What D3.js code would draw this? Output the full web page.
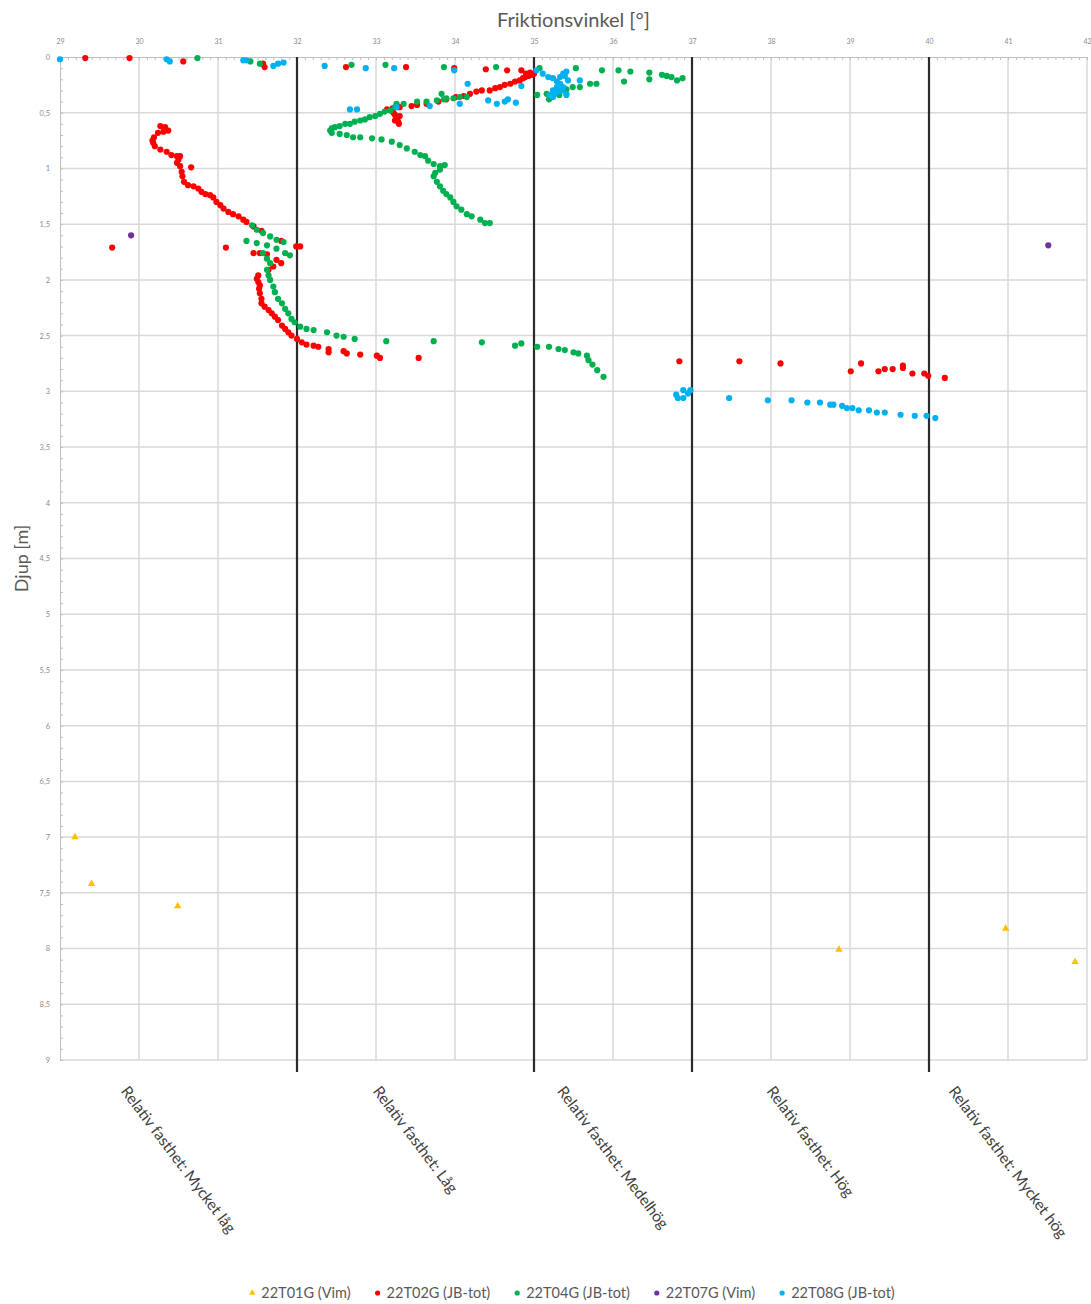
<!DOCTYPE html>
<html>
<head>
<meta charset="utf-8">
<script src="https://cdn.jsdelivr.net/npm/d3@7"></script>
<style>
body { margin: 0; background: #fff; }
text { font-family: Lato, "Open Sans", sans-serif; }
</style>
</head>
<body>
<div id="chart"></div>
<script>
// axis ticks
const xTicks = [29, 30, 31, 32, 33, 34, 35, 36, 37, 38, 39, 40, 41, 42]
const yTicks = [0, 0.5, 1, 1.5, 2, 2.5, 3, 3.5, 4, 4.5, 5, 5.5, 6, 6.5, 7, 7.5, 8, 8.5, 9]

// strength classes (friction angle bounds)
const zoneBounds = [29, 32, 35, 37, 40, 42]
const zoneNames = ["Relativ fasthet: Mycket låg", "Relativ fasthet: Låg", "Relativ fasthet: Medelhög",
                   "Relativ fasthet: Hög", "Relativ fasthet: Mycket hög"]

const seriesNames = ["22T01G (Vim)", "22T02G (JB-tot)", "22T04G (JB-tot)", "22T07G (Vim)", "22T08G (JB-tot)"]
const seriesColors = ["#FFC000", "#FF0000", "#00B050", "#7030A0", "#00B0F0"]

// [friktionsvinkel, djup]
const t01g = [[29.19, 7.00], [29.40, 7.42], [30.49, 7.62], [38.86, 8.01], [40.97, 7.82], [41.85, 8.12]]

const t02g = [
  [29.32, 0.01], [29.88, 0.01], [30.56, 0.04], [31.57, 0.06], [31.59, 0.09],
  [32.62, 0.09], [33.38, 0.09], [33.99, 0.10], [34.39, 0.11], [34.66, 0.12], [34.84, 0.12],
  [35.00, 0.15], [34.97, 0.16], [34.95, 0.14], [34.93, 0.17], [34.90, 0.15], [34.89, 0.18], [34.86, 0.19],
  [34.82, 0.21], [34.76, 0.22], [34.70, 0.24], [34.63, 0.25], [34.57, 0.27], [34.51, 0.28], [34.44, 0.30],
  [34.34, 0.30], [34.27, 0.31], [34.19, 0.33], [34.11, 0.35], [34.01, 0.36], [33.89, 0.38], [33.79, 0.40],
  [33.64, 0.42], [33.52, 0.43], [33.45, 0.44], [33.30, 0.45], [33.21, 0.46], [33.14, 0.47],
  [33.22, 0.50], [33.24, 0.52], [33.30, 0.53], [33.26, 0.55], [33.24, 0.57], [33.28, 0.58], [33.29, 0.60],
  [30.27, 0.62], [30.33, 0.63], [30.37, 0.66], [30.31, 0.67], [30.24, 0.68], [30.19, 0.72], [30.17, 0.75],
  [30.18, 0.77], [30.20, 0.80], [30.27, 0.83], [30.35, 0.85], [30.41, 0.88], [30.48, 0.89], [30.52, 0.89],
  [30.50, 0.92], [30.48, 0.95], [30.52, 0.98], [30.66, 0.99], [30.54, 1.03], [30.55, 1.07], [30.57, 1.12],
  [30.62, 1.15], [30.69, 1.16], [30.75, 1.18], [30.79, 1.21], [30.84, 1.23], [30.90, 1.24], [30.94, 1.26],
  [30.98, 1.30], [31.03, 1.33], [31.07, 1.36], [31.13, 1.39], [31.19, 1.41], [31.26, 1.43], [31.32, 1.46],
  [31.36, 1.48], [31.45, 1.52], [31.55, 1.56], [31.80, 1.65],
  [29.66, 1.71], [31.10, 1.71], [31.99, 1.70], [32.04, 1.70],
  [31.45, 1.76], [31.53, 1.76], [31.62, 1.77], [31.74, 1.82], [31.80, 1.85], [31.70, 1.88], [31.64, 1.91],
  [31.51, 1.96], [31.49, 1.99], [31.51, 2.02], [31.53, 2.05], [31.52, 2.08], [31.53, 2.12], [31.55, 2.17],
  [31.55, 2.21], [31.59, 2.24], [31.64, 2.27], [31.68, 2.30], [31.72, 2.33], [31.76, 2.36], [31.81, 2.41],
  [31.85, 2.44], [31.89, 2.47], [31.93, 2.50], [32.00, 2.53], [32.06, 2.56], [32.12, 2.58], [32.21, 2.59],
  [32.27, 2.60], [32.40, 2.62], [32.40, 2.65], [32.59, 2.64], [32.63, 2.66], [32.80, 2.67], [33.01, 2.68],
  [33.05, 2.70], [33.54, 2.70],
  [36.84, 2.73], [37.60, 2.73], [38.12, 2.75], [39.01, 2.82], [39.14, 2.75], [39.36, 2.82], [39.44, 2.80],
  [39.54, 2.80], [39.67, 2.77], [39.67, 2.79], [39.79, 2.84], [39.94, 2.84], [39.99, 2.86], [40.20, 2.88]
]

const t04g = [
  [30.74, 0.01], [31.41, 0.04], [31.53, 0.06], [32.69, 0.07], [33.12, 0.07], [33.86, 0.09], [34.52, 0.09],
  [35.07, 0.10], [35.53, 0.10], [35.86, 0.12], [36.07, 0.12], [36.22, 0.13], [36.14, 0.22], [36.46, 0.14],
  [36.46, 0.20], [36.62, 0.16], [36.68, 0.17], [36.74, 0.18], [36.81, 0.21], [36.88, 0.19],
  [35.04, 0.34], [35.16, 0.33], [35.19, 0.38], [35.32, 0.34], [35.41, 0.29], [35.49, 0.27], [35.58, 0.27],
  [35.71, 0.24], [35.79, 0.24],
  [33.83, 0.33], [33.89, 0.37], [34.15, 0.36], [34.06, 0.36], [33.98, 0.37], [33.86, 0.38], [33.77, 0.39],
  [33.64, 0.40], [33.52, 0.40], [33.35, 0.42], [33.26, 0.42],
  [33.24, 0.45], [33.18, 0.48], [33.11, 0.49], [33.05, 0.51], [32.99, 0.53], [32.92, 0.54], [32.86, 0.56],
  [32.80, 0.57], [32.73, 0.58], [32.67, 0.60], [32.61, 0.60], [32.54, 0.62], [32.48, 0.63], [32.44, 0.64],
  [32.42, 0.66], [32.44, 0.68],
  [32.54, 0.69], [32.63, 0.70], [32.71, 0.72], [32.80, 0.72], [32.95, 0.73], [33.07, 0.74], [33.20, 0.76],
  [33.30, 0.79], [33.39, 0.82], [33.49, 0.85], [33.56, 0.88], [33.62, 0.89], [33.66, 0.93], [33.73, 0.96],
  [33.81, 0.98], [33.87, 0.97], [33.81, 1.01], [33.75, 1.04], [33.73, 1.07], [33.77, 1.12], [33.81, 1.16],
  [33.85, 1.20], [33.89, 1.23], [33.94, 1.26], [33.98, 1.30], [34.02, 1.34], [34.08, 1.37], [34.15, 1.41],
  [34.21, 1.43], [34.32, 1.46], [34.38, 1.49], [34.44, 1.49],
  [31.43, 1.51], [31.49, 1.55], [31.57, 1.58], [31.66, 1.61], [31.74, 1.64], [31.83, 1.66], [31.36, 1.65],
  [31.49, 1.67], [31.62, 1.69], [31.74, 1.72], [31.85, 1.76], [31.91, 1.78], [31.57, 1.76], [31.62, 1.81],
  [31.66, 1.85], [31.62, 1.91], [31.64, 1.96], [31.66, 2.00], [31.70, 2.06], [31.72, 2.11], [31.76, 2.17],
  [31.81, 2.21], [31.85, 2.26], [31.89, 2.30], [31.93, 2.35], [31.97, 2.38], [32.04, 2.42], [32.12, 2.44],
  [32.21, 2.45], [32.38, 2.47], [32.50, 2.50], [32.59, 2.51], [32.73, 2.53], [33.13, 2.55], [33.73, 2.55],
  [34.34, 2.56], [34.76, 2.59], [34.84, 2.57], [35.04, 2.60], [35.19, 2.60], [35.31, 2.62], [35.39, 2.63],
  [35.50, 2.65], [35.56, 2.66], [35.67, 2.68], [35.69, 2.72], [35.74, 2.76], [35.80, 2.81], [35.88, 2.87]
]

const t07g = [[29.90, 1.60], [41.51, 1.69]]

const t08g = [
  [29.00, 0.02], [30.35, 0.02], [30.39, 0.04], [31.32, 0.03], [31.36, 0.03], [31.70, 0.08], [31.76, 0.06],
  [31.83, 0.05], [32.35, 0.08], [32.87, 0.10], [33.23, 0.10], [33.99, 0.12], [34.16, 0.24], [34.84, 0.26],
  [32.67, 0.47], [32.76, 0.47], [33.26, 0.45], [33.68, 0.44], [34.06, 0.42], [34.42, 0.39], [34.53, 0.42],
  [34.63, 0.40], [34.67, 0.38], [34.77, 0.41],
  [35.03, 0.12], [35.11, 0.15], [35.18, 0.18], [35.24, 0.19], [35.29, 0.22], [35.33, 0.18], [35.37, 0.15],
  [35.41, 0.13], [35.39, 0.17], [35.33, 0.24], [35.29, 0.27], [35.24, 0.30], [35.20, 0.34], [35.27, 0.33],
  [35.31, 0.31], [35.35, 0.30], [35.37, 0.27], [35.41, 0.33], [35.43, 0.21], [35.58, 0.21], [35.24, 0.36],
  [35.41, 0.34],
  [36.80, 3.03], [36.82, 3.06], [36.89, 2.99], [36.89, 3.06], [36.95, 3.02], [36.98, 2.99], [37.47, 3.06],
  [37.96, 3.08], [38.26, 3.08], [38.46, 3.10], [38.62, 3.10], [38.75, 3.12], [38.79, 3.12], [38.90, 3.13],
  [38.96, 3.15], [39.03, 3.15], [39.11, 3.17], [39.24, 3.17], [39.34, 3.19], [39.44, 3.19], [39.64, 3.21],
  [39.82, 3.22], [39.97, 3.22], [40.08, 3.24]
]

const seriesData = [t01g, t02g, t04g, t07g, t08g]

const ChartDepth = function (id) {
    const width = 1091
    const height = 1304
    const margin = {top: 57, right: 4, bottom: 244, left: 60}
    const grey = "#595959"

    const svg = d3.select("#".concat(id))
        .append("svg")
        .attr("width", width)
        .attr("height", height)
        .attr("viewBox", [0, 0, width, height])

    const layer_grid = svg.append("g")
    const layer_axes = svg.append("g")
    const layer_zones = svg.append("g")
    const layer_points = svg.append("g")
    const layer_text = svg.append("g")
    const layer_legend = svg.append("g")

    const x = d3.scaleLinear()
        .domain([29, 42])
        .range([margin.left, width - margin.right])

    const y = d3.scaleLinear()
        .domain([0, 9])
        .range([margin.top, height - margin.bottom])

    const comma = d => String(d).replace(".", ",")

    // grid
    layer_grid
        .attr("stroke", "#d9d9d9")
        .attr("stroke-width", 1.5)
        .call(g => g.append("g")
            .selectAll("line")
            .data(xTicks.slice(1))
            .join("line")
            .attr("x1", d => x(d))
            .attr("x2", d => x(d))
            .attr("y1", y(0))
            .attr("y2", y(9)))
        .call(g => g.append("g")
            .selectAll("line")
            .data(yTicks.slice(1))
            .join("line")
            .attr("x1", x(29))
            .attr("x2", x(42))
            .attr("y1", d => y(d))
            .attr("y2", d => y(d)))

    // top axis: minor ticks inside, labels above
    layer_axes.append("g")
        .attr("transform", `translate(0,${y(0)})`)
        .call(d3.axisBottom(x).tickValues(d3.range(290, 421).map(v => v / 10)).tickSize(3).tickFormat(""))
        .call(g => g.selectAll("line, path").attr("stroke", "#bfbfbf"))

    layer_axes.append("g")
        .attr("transform", `translate(0,${y(0)})`)
        .call(d3.axisTop(x).tickValues(xTicks).tickSize(0).tickPadding(13).tickFormat(d => d))
        .call(g => g.select(".domain").remove())
        .call(g => g.selectAll("text")
            .attr("fill", "#8c8c8c")
            .attr("font-size", 7))

    // left axis
    layer_axes.append("g")
        .attr("transform", `translate(${x(29)},0)`)
        .call(d3.axisRight(y).tickValues(d3.range(0, 91).map(v => v / 10)).tickSize(3).tickFormat(""))
        .call(g => g.selectAll("line, path").attr("stroke", "#bfbfbf"))

    layer_axes.append("g")
        .attr("transform", `translate(${x(29)},0)`)
        .call(d3.axisLeft(y).tickValues(yTicks).tickSize(0).tickPadding(10).tickFormat(comma))
        .call(g => g.select(".domain").remove())
        .call(g => g.selectAll("text")
            .attr("fill", "#8c8c8c")
            .attr("font-size", 7.5))

    // strength class dividers
    layer_zones
        .attr("stroke", "#2b2b2b")
        .attr("stroke-width", 2.2)
        .selectAll("line")
        .data(zoneBounds.slice(1, -1))
        .join("line")
        .attr("x1", d => x(d))
        .attr("x2", d => x(d))
        .attr("y1", y(0))
        .attr("y2", y(9) + 12)

    // points
    seriesData.forEach((data, i) => {
        const g = layer_points.append("g").attr("fill", seriesColors[i])
        if (i === 0) {
            g.selectAll("path")
                .data(data)
                .join("path")
                .attr("transform", d => `translate(${x(d[0])},${y(d[1])})`)
                .attr("d", d3.symbol(d3.symbolTriangle, 24))
        } else {
            g.selectAll("circle")
                .data(data)
                .join("circle")
                .attr("cx", d => x(d[0]))
                .attr("cy", d => y(d[1]))
                .attr("r", 3.1)
        }
    })

    // titles
    layer_text.append("text")
        .attr("x", (x(29) + x(42)) / 2)
        .attr("y", 27)
        .attr("text-anchor", "middle")
        .attr("font-size", 20)
        .attr("fill", grey)
        .text("Friktionsvinkel [°]")

    layer_text.append("text")
        .attr("transform", `translate(28,${(y(0) + y(9)) / 2}) rotate(-90)`)
        .attr("text-anchor", "middle")
        .attr("font-size", 18)
        .attr("fill", grey)
        .text("Djup [m]")

    // rotated class labels under the plot
    const angle = 53
    const rad = angle * Math.PI / 180
    zoneNames.forEach((name, i) => {
        const mid = x((zoneBounds[i] + zoneBounds[i + 1]) / 2)
        const t = layer_text.append("text")
            .attr("font-size", 15.5)
            .attr("fill", "#404040")
            .attr("dy", "0.35em")
            .text(name)
        const len = t.node().getComputedTextLength()
        const y0 = y(9) + 28
        t.attr("transform", `translate(${mid - len / 2 * Math.cos(rad)},${y0}) rotate(${angle})`)
    })

    // legend
    let lx = 0
    const items = layer_legend.append("g")
    seriesNames.forEach((name, i) => {
        const item = items.append("g").attr("transform", `translate(${lx},0)`)
        if (i === 0) {
            item.append("path")
                .attr("d", d3.symbol(d3.symbolTriangle, 18))
                .attr("fill", seriesColors[i])
        } else {
            item.append("circle").attr("r", 2.6).attr("fill", seriesColors[i])
        }
        const t = item.append("text")
            .attr("x", 9)
            .attr("dy", "0.35em")
            .attr("font-size", 14.5)
            .attr("fill", grey)
            .text(name)
        lx += 9 + t.node().getComputedTextLength() + 27
    })
    const legendW = lx - 27
    items.attr("transform", `translate(${(x(29) + x(42)) / 2 - legendW / 2},1293)`)
}

ChartDepth("chart")
</script>
</body>
</html>
